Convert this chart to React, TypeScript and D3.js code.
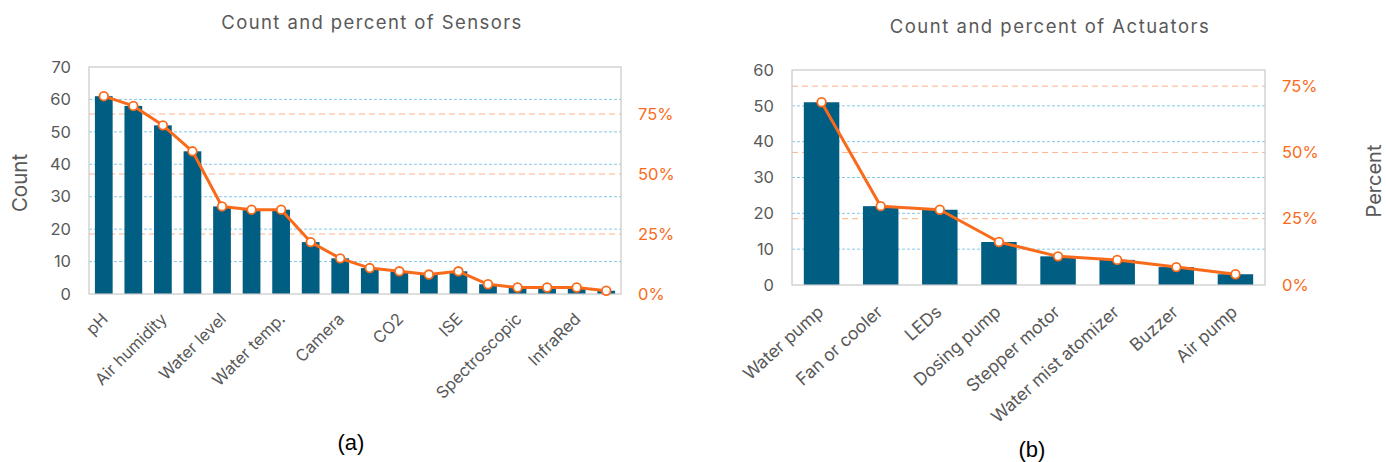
import React from "react";
import * as d3 from "d3";

// Sensors: counts per category, percent is count over the number of studies
const sensorLabels = ["pH", "", "Air humidity", "", "Water level", "", "Water temp.", "", "Camera", "", "CO2", "", "ISE", "", "Spectroscopic", "", "InfraRed", ""];
const sensorCounts = [61, 58, 52, 44, 27, 26, 26, 16, 11, 8, 7, 6, 7, 3, 2, 2, 2, 1];

// Actuators
const actuatorLabels = ["Water pump", "Fan or cooler", "LEDs", "Dosing pump", "Stepper motor", "Water mist atomizer", "Buzzer", "Air pump"];
const actuatorCounts = [51, 22, 21, 12, 8, 7, 5, 3];

const totalStudies = 74;
const sensorCountTicks = [0, 10, 20, 30, 40, 50, 60, 70];
const actuatorCountTicks = [0, 10, 20, 30, 40, 50, 60];
const percentTicks = [0, 0.25, 0.5, 0.75];

const BAR = "#005E83";
const LINE = "#F96B1B";
const TEXT = "#595959";
const FONT = "Inter, 'Open Sans', 'Liberation Sans', sans-serif";

type PanelProps = {
  title: string;
  titleX: number;
  titleY: number;
  titleSpacing: number;
  labels: string[];
  counts: number[];
  countTicks: number[];
  left: number;
  right: number;
  top: number;
  bottom: number;
  countMax: number;
  labelAngle: number;
  labelSize: number;
  labelDx: number;
  labelDy: number;
};

function Panel(p: PanelProps) {
  const idx = d3.range(p.counts.length).map(String);
  const x = d3.scaleBand<string>().domain(idx).range([p.left, p.right]).paddingInner(0.4).paddingOuter(0.2);
  const y = d3.scaleLinear().domain([0, p.countMax]).range([p.bottom, p.top]);
  const yp = d3.scaleLinear().domain([0, p.countMax / totalStudies]).range([p.bottom, p.top]);
  const pct = p.counts.map((c) => c / totalStudies);
  const line = d3
    .line<number>()
    .x((_, i) => (x(String(i)) as number) + x.bandwidth() / 2)
    .y((v) => yp(v));
  const fmt = d3.format(".0%");
  return (
    <g>
      <text x={p.titleX} y={p.titleY} textAnchor="middle" fontSize={18.5} fill={TEXT} letterSpacing={p.titleSpacing} fontFamily={FONT}>
        {p.title}
      </text>
      {/* count gridlines */}
      {p.countTicks
        .filter((t) => t > 0 && t < p.countMax)
        .map((t) => (
          <line key={"gc" + t} x1={p.left} x2={p.right} y1={y(t)} y2={y(t)} stroke="#86C8EA" strokeWidth={1} strokeDasharray="3,2" />
        ))}
      {/* percent gridlines */}
      {percentTicks
        .filter((t) => t > 0)
        .map((t) => (
          <line key={"gp" + t} x1={p.left} x2={p.right} y1={yp(t)} y2={yp(t)} stroke="#FFB08A" strokeWidth={1} strokeDasharray="6,4" />
        ))}
      {/* bars */}
      {p.counts.map((c, i) => (
        <rect key={"b" + i} x={x(String(i))} y={y(c)} width={x.bandwidth()} height={y(0) - y(c)} fill={BAR} />
      ))}
      {/* plot frame */}
      <rect x={p.left} y={p.top} width={p.right - p.left} height={p.bottom - p.top} fill="none" stroke="#C8C8C8" strokeWidth={1.2} />
      {/* percent line */}
      <path d={line(pct) || ""} fill="none" stroke={LINE} strokeWidth={3} strokeLinejoin="round" />
      {pct.map((v, i) => (
        <circle key={"m" + i} cx={(x(String(i)) as number) + x.bandwidth() / 2} cy={yp(v)} r={4.3} fill="#fff" stroke={LINE} strokeWidth={1.8} />
      ))}
      {/* left axis labels */}
      {p.countTicks.map((t) => (
        <text key={"lc" + t} x={p.left - 18} y={y(t)} dy="0.35em" textAnchor="end" fontSize={16.5} fill={TEXT} fontFamily={FONT}>
          {t}
        </text>
      ))}
      {/* right axis labels */}
      {percentTicks.map((t) => (
        <text key={"lp" + t} x={p.right + 17} y={yp(t)} dy="0.35em" textAnchor="start" fontSize={16.5} fill={LINE} fontFamily={FONT}>
          {fmt(t)}
        </text>
      ))}
      {/* category labels */}
      {p.labels.map((l, i) =>
        l ? (
          <text
            key={"x" + i}
            transform={`translate(${(x(String(i)) as number) + x.bandwidth() / 2 + p.labelDx},${p.bottom + p.labelDy}) rotate(${p.labelAngle})`}
            textAnchor="end"
            dy="0.35em"
            fontSize={p.labelSize}
            fill={TEXT}
            fontFamily={FONT}
          >
            {l}
          </text>
        ) : null
      )}
    </g>
  );
}

export default function App() {
  return (
    <svg width={1386} height={462} style={{ position: "absolute", left: 0, top: 0, background: "#fff" }}>
      <rect width={1386} height={462} fill="#fff" />
      <Panel
        title="Count and percent of Sensors"
        titleX={372}
        titleY={29}
        titleSpacing={1.4}
        labels={sensorLabels}
        counts={sensorCounts}
        countTicks={sensorCountTicks}
        left={89}
        right={621}
        top={67}
        bottom={294}
        countMax={70}
        labelAngle={-45}
        labelSize={16.5}
        labelDx={1}
        labelDy={22}
      />
      <Panel
        title="Count and percent of Actuators"
        titleX={1050}
        titleY={33}
        titleSpacing={1.5}
        labels={actuatorLabels}
        counts={actuatorCounts}
        countTicks={actuatorCountTicks}
        left={792}
        right={1265}
        top={70}
        bottom={285}
        countMax={60}
        labelAngle={-42}
        labelSize={17.5}
        labelDx={-1}
        labelDy={24}
      />
      <text transform="translate(27,183) rotate(-90)" textAnchor="middle" fontSize={20.5} fill={TEXT} fontFamily={FONT}>
        Count
      </text>
      <text transform="translate(1381,181) rotate(-90)" textAnchor="middle" fontSize={20} fill={TEXT} fontFamily={FONT}>
        Percent
      </text>
      <text x={351} y={450} textAnchor="middle" fontSize={22} fill="#000" fontFamily="'Liberation Sans', Arial, sans-serif">
        (a)
      </text>
      <text x={1032} y={457} textAnchor="middle" fontSize={22} fill="#000" fontFamily="'Liberation Sans', Arial, sans-serif">
        (b)
      </text>
    </svg>
  );
}
